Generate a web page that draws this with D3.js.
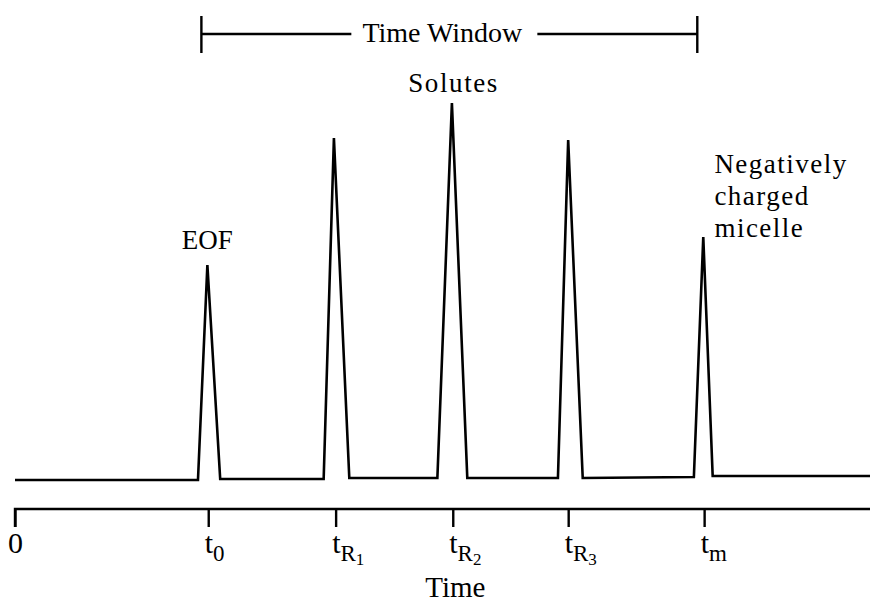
<!DOCTYPE html>
<html>
<head>
    <title>MEKC elution diagram</title>
    <script src="https://d3js.org/d3.v7.min.js"></script>
    <style>
        body { margin: 0; background: #fff; }
        svg text {
            font-family: "Liberation Serif", Tinos, "Times New Roman", "Nimbus Roman", "DejaVu Serif", serif;
            fill: #000;
        }
        .trace {
            fill: none;
            stroke: #000;
            stroke-width: 2.6px;
            stroke-linejoin: miter;
        }
        .axis path, .axis line {
            stroke: #000;
            stroke-width: 2.4px;
        }
    </style>
</head>
<body>
    <svg width="870" height="604"></svg>

    <script>
        // trace vertices (time in arbitrary units, signal 0-100)
        const traceTime   = [0, 2.14, 2.25, 2.40, 3.61, 3.73, 3.91, 4.94, 5.11, 5.29, 6.35, 6.47, 6.64, 7.94, 8.05, 8.16, 10];
        const traceSignal = [-0.25, -0.25, 53.5, 0, 0, 85.25, 0.25, 0.25, 94, 0.25, 0.25, 84.75, 0.25, 0.5, 60.5, 0.75, 0.75];

        // axis ticks
        const tickTimes  = [0, 2.26, 3.75, 5.12, 6.47, 8.06];
        const tickMain   = ["0", "t", "t", "t", "t", "t"];
        const tickSub    = ["", "0", "R", "R", "R", "m"];
        const tickSubSub = ["", "", "1", "2", "3", ""];

        // time window bracket
        const windowRange = [2.18, 7.98];
        const windowLabel = "Time Window";

        // peak annotations
        const noteLabels  = ["EOF", "Solutes", "Negatively\ncharged\nmicelle"];
        const noteTimes   = [2.25, 5.13, 8.18];
        const noteSignal  = [57.5, 96.75, 76.5];
        const noteAnchor  = ["middle", "middle", "start"];
        const noteSpacing = [0, 1.6, 1.5];

        const svg = d3.select("svg");

        const x = d3.scaleLinear().domain([0, 10]).range([15, 870]);
        const y = d3.scaleLinear().domain([0, 100]).range([479, 79]);

        // chromatogram trace
        const line = d3.line()
            .x(d => x(d[0]))
            .y(d => y(d[1]));

        svg.append("path")
            .attr("class", "trace")
            .attr("d", line(d3.zip(traceTime, traceSignal)));

        // time axis
        const axis = d3.axisBottom(x)
            .tickValues(tickTimes)
            .tickSize(18)
            .tickSizeOuter(0)
            .tickFormat("");

        const gAxis = svg.append("g")
            .attr("class", "axis")
            .attr("transform", "translate(0,509)")
            .call(axis);

        gAxis.select(".domain")
            .attr("d", `M${x(0)},18V0H${x(10)}`);

        gAxis.selectAll(".tick").each(function (d, i) {
            const t = d3.select(this).append("text")
                .attr("y", 44)
                .attr("x", i === 0 ? 0 : -4)
                .attr("text-anchor", i === 0 ? "middle" : "start")
                .style("font-size", "30px");
            t.append("tspan").text(tickMain[i]);
            if (tickSub[i]) {
                t.append("tspan")
                    .attr("dy", 8)
                    .style("font-size", "23px")
                    .text(tickSub[i]);
            }
            if (tickSubSub[i]) {
                t.append("tspan")
                    .attr("dy", 4)
                    .style("font-size", "17px")
                    .text(tickSubSub[i]);
            }
        });

        svg.append("text")
            .attr("x", x(5.15))
            .attr("y", 597)
            .attr("text-anchor", "middle")
            .style("font-size", "29px")
            .text("Time");

        // Time Window bracket on top
        const gWin = svg.append("g").attr("class", "axis");
        const wx0 = x(windowRange[0]), wx1 = x(windowRange[1]);
        const wmid = (wx0 + wx1) / 2;

        gWin.append("path")
            .attr("d", `M${wx0},16V53M${wx0},34H${wmid - 98}M${wmid + 88},34H${wx1}M${wx1},16V53`)
            .attr("fill", "none")
            .attr("stroke", "#000")
            .attr("stroke-width", 2.4);

        gWin.append("text")
            .attr("x", wmid - 7)
            .attr("y", 42)
            .attr("text-anchor", "middle")
            .style("font-size", "28px")
            .text(windowLabel);

        // annotations
        noteLabels.forEach(function (lab, i) {
            const t = svg.append("text")
                .attr("x", x(noteTimes[i]))
                .attr("y", y(noteSignal[i]))
                .attr("text-anchor", noteAnchor[i])
                .style("font-size", "27px")
                .style("letter-spacing", noteSpacing[i] + "px");
            lab.split("\n").forEach(function (part, j) {
                t.append("tspan")
                    .attr("x", x(noteTimes[i]))
                    .attr("dy", j === 0 ? 0 : 32)
                    .text(part);
            });
        });
    </script>
</body>
</html>
